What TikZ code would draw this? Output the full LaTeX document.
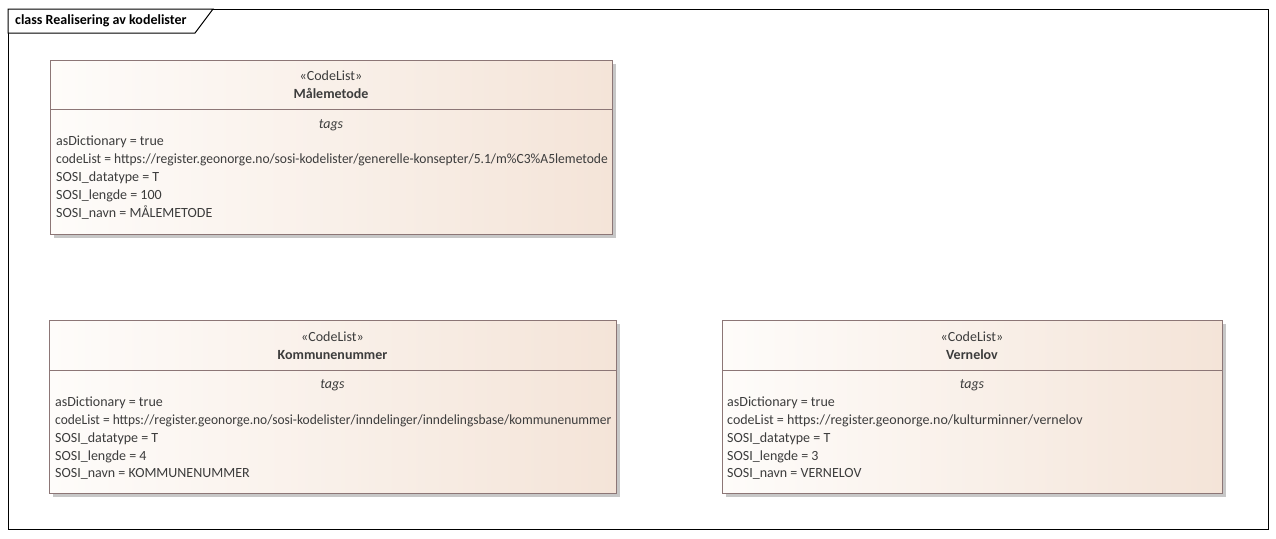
\documentclass[tikz,border=0pt]{standalone}
\usepackage{fontspec}
\usepackage{graphicx}
\setmainfont{Carlito}
\definecolor{umlline}{RGB}{140,118,118}
\definecolor{umlleft}{RGB}{254,252,250}
\definecolor{umlright}{RGB}{244,228,216}
\definecolor{umltext}{RGB}{60,60,60}
\tikzset{
    classbox/.style={draw=umlline, line width=1pt, left color=umlleft, right color=umlright, inner sep=0pt},
    classshadow/.style={fill=black!22, draw=none},
    divider/.style={draw=umlline, line width=1pt},
    tagtext/.style={anchor=base west, inner sep=0pt, text=umltext, font=\fontsize{14}{16}\selectfont},
    headtext/.style={anchor=base, inner sep=0pt, text=umltext, font=\fontsize{14}{16}\selectfont}
}

\begin{document}
\begin{tikzpicture}[x=1pt, y=-1pt]

    % page and frame
    \useasboundingbox (0,0) rectangle (1276,538);
    \fill[white] (0,0) rectangle (1276,538);
    \draw[black, line width=1pt] (8,9) rectangle (1268,529);
    \draw[black, line width=1pt, fill=white] (8,9) -- (213,9) -- (195,33) -- (8,33) -- cycle;
    \node[tagtext, text=black, font=\fontsize{14}{16}\selectfont\bfseries] (title) at (15,24) {class Realisering av kodelister};

    % draw shadows
    \fill[classshadow] (54,64) rectangle (616,238);
    \fill[classshadow] (53,324) rectangle (620,497);
    \fill[classshadow] (726,324) rectangle (1226,497);

    % draw class boxes
    \node[classbox, minimum width=562pt, minimum height=174pt] (maale) at (331,147) {};
    \node[classbox, minimum width=567pt, minimum height=173pt] (kommune) at (332.5,406.5) {};
    \node[classbox, minimum width=500pt, minimum height=173pt] (vern) at (972,406.5) {};

    % draw dividers
    \draw[divider] (50,109) -- (612,109);
    \draw[divider] (49,370) -- (616,370);
    \draw[divider] (722,370) -- (1222,370);

    % Maalemetode
    \node[headtext] (maale-st) at (331,80) {«CodeList»};
    \node[headtext, font=\fontsize{14}{16}\selectfont\bfseries] (maale-nm) at (331,98) {Målemetode};
    \node[headtext, font=\fontsize{14}{16}\selectfont\itshape] (maale-tg) at (331,128) {tags};
    \node[tagtext] (maale-a) at (56,145) {asDictionary = true};
    \node[tagtext] (maale-b) at (56,163) {\scalebox{0.967}[1]{codeList = https://register.geonorge.no/sosi-kodelister/generelle-konsepter/5.1/m\%C3\%A5lemetode}};
    \node[tagtext] (maale-c) at (56,181) {SOSI\_datatype = T};
    \node[tagtext] (maale-d) at (56,199) {SOSI\_lengde = 100};
    \node[tagtext] (maale-e) at (56,217) {SOSI\_navn = MÅLEMETODE};

    % Kommunenummer
    \node[headtext] (kommune-st) at (332.5,341) {«CodeList»};
    \node[headtext, font=\fontsize{14}{16}\selectfont\bfseries] (kommune-nm) at (332.5,359) {Kommunenummer};
    \node[headtext, font=\fontsize{14}{16}\selectfont\itshape] (kommune-tg) at (332.5,388) {tags};
    \node[tagtext] (kommune-a) at (55,406) {asDictionary = true};
    \node[tagtext] (kommune-b) at (55,424) {\scalebox{0.961}[1]{codeList = https://register.geonorge.no/sosi-kodelister/inndelinger/inndelingsbase/kommunenummer}};
    \node[tagtext] (kommune-c) at (55,442) {SOSI\_datatype = T};
    \node[tagtext] (kommune-d) at (55,460) {SOSI\_lengde = 4};
    \node[tagtext] (kommune-e) at (55,477) {SOSI\_navn = KOMMUNENUMMER};

    % Vernelov
    \node[headtext] (vern-st) at (972,341) {«CodeList»};
    \node[headtext, font=\fontsize{14}{16}\selectfont\bfseries] (vern-nm) at (972,359) {Vernelov};
    \node[headtext, font=\fontsize{14}{16}\selectfont\itshape] (vern-tg) at (972,388) {tags};
    \node[tagtext] (vern-a) at (727,406) {asDictionary = true};
    \node[tagtext] (vern-b) at (727,424) {codeList = https://register.geonorge.no/kulturminner/vernelov};
    \node[tagtext] (vern-c) at (727,442) {SOSI\_datatype = T};
    \node[tagtext] (vern-d) at (727,460) {SOSI\_lengde = 3};
    \node[tagtext] (vern-e) at (727,477) {SOSI\_navn = VERNELOV};

\end{tikzpicture}
\end{document}
